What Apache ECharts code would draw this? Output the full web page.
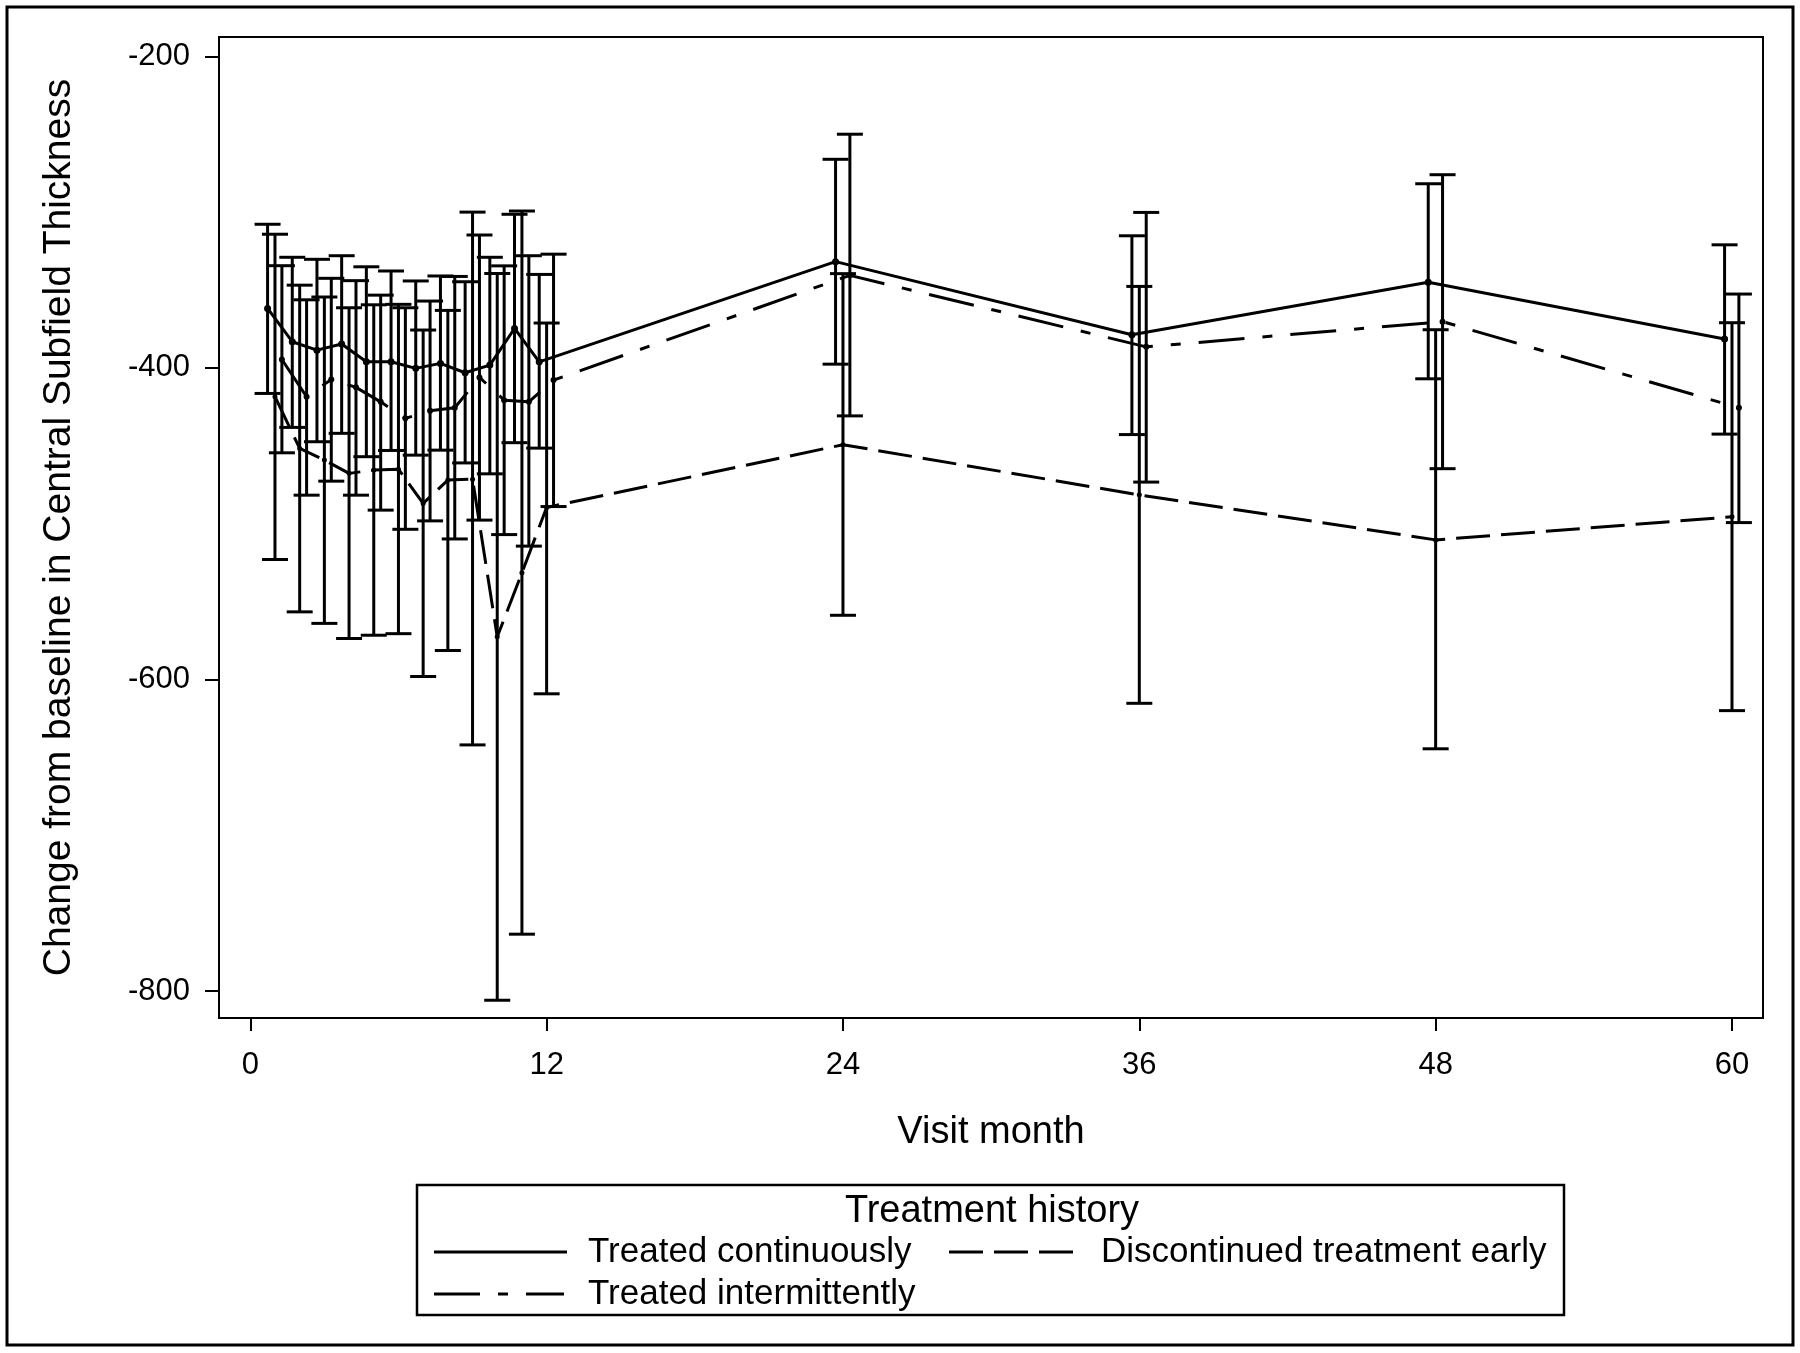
<!DOCTYPE html>
<html>
<head>
<meta charset="utf-8">
<script src="https://cdn.jsdelivr.net/npm/echarts@6/dist/echarts.min.js"></script>
<style>
html,body{margin:0;padding:0;background:#fff;}
#chart{width:1800px;height:1353px;}
</style>
</head>
<body>
<div id="chart"></div>
<script>
// ---- Data ----
const months = [1, 2, 3, 4, 5, 6, 7, 8, 9, 10, 11, 12, 24, 36, 48, 60];
const xTickValues = [0, 12, 24, 36, 48, 60];
const yTickValues = [-800, -600, -400, -200];

const seriesNames = ['Treated continuously', 'Discontinued treatment early', 'Treated intermittently'];

const contMean  = [-361.8, -383.2, -388.6, -384.7, -396.1, -396.1, -400.3, -397.1, -403.1, -398.2, -374.7, -396.1, -331.8, -378.7, -345.0, -381.4];
const contUpper = [-307.8, -329.0, -330.3, -328.0, -335.1, -337.8, -344.2, -341.0, -344.7, -329.0, -301.4, -340.0, -266.1, -315.2, -281.8, -321.0];
const contLower = [-416.4, -438.2, -447.4, -442.0, -457.0, -453.0, -456.0, -452.8, -461.0, -468.0, -448.0, -451.5, -397.6, -442.8, -407.0, -442.5];

const discMean  = [-418.5, -451.7, -459.2, -467.7, -465.6, -465.0, -487.0, -472.0, -471.4, -572.6, -531.5, -489.6, -449.3, -481.5, -510.4, -495.6];
const discUpper = [-314.2, -346.9, -354.5, -361.4, -359.5, -359.2, -375.7, -363.1, -300.0, -339.4, -299.3, -371.2, -339.5, -347.7, -375.5, -371.0];
const discLower = [-523.0, -556.6, -564.0, -573.7, -571.6, -570.6, -598.1, -581.4, -642.0, -805.9, -763.5, -609.2, -558.8, -615.3, -644.5, -620.0];

const intMean  = [-394.6, -418.5, -407.4, -412.5, -421.8, -432.4, -427.5, -425.6, -406.1, -420.7, -421.8, -407.8, -340.6, -386.5, -370.3, -425.6];
const intUpper = [-334.4, -356.3, -342.5, -344.0, -353.3, -361.4, -357.1, -341.3, -314.7, -334.5, -328.0, -327.0, -250.0, -300.2, -276.0, -352.6];
const intLower = [-454.5, -481.7, -472.7, -481.7, -491.3, -503.6, -498.2, -509.8, -497.7, -507.0, -514.4, -489.0, -430.8, -473.3, -464.7, -499.3];

// ---- Styling / layout ----
const FONT = '"Liberation Sans", Arial, Helvetica, sans-serif';
const BLACK = '#000';
const dodge = { cont: -0.3, disc: 0.0, int: 0.28 };
const dashDisc = [34, 11];
const dashInt = [46, 18, 10, 18];

function errRender(params, api) {
  const x = api.value(0);
  const top = api.coord([x, api.value(2)]);
  const bot = api.coord([x, api.value(1)]);
  const hw = 13;
  const st = { stroke: BLACK, lineWidth: 3 };
  return {
    type: 'group',
    children: [
      { type: 'line', shape: { x1: top[0], y1: top[1], x2: bot[0], y2: bot[1] }, style: st },
      { type: 'line', shape: { x1: top[0] - hw, y1: top[1], x2: top[0] + hw, y2: top[1] }, style: st },
      { type: 'line', shape: { x1: bot[0] - hw, y1: bot[1], x2: bot[0] + hw, y2: bot[1] }, style: st }
    ]
  };
}

function errSeries(name, off, lower, upper) {
  return {
    name: name + ' CI',
    type: 'custom',
    renderItem: errRender,
    encode: { x: 0, y: [1, 2] },
    data: months.map((m, i) => [m + off, lower[i], upper[i]]),
    z: 2,
    silent: true
  };
}

function lineSeries(name, off, mean, dash, symSize) {
  return {
    name: name,
    type: 'line',
    data: months.map((m, i) => [m + off, mean[i]]),
    symbol: 'circle',
    symbolSize: symSize,
    showSymbol: true,
    itemStyle: { color: BLACK },
    lineStyle: { color: BLACK, width: 3, type: dash },
    z: 3
  };
}

const chart = echarts.init(document.getElementById('chart'), null, { renderer: 'canvas' });

const legendLeft = 417, legendTop = 1185, legendW = 1147, legendH = 130;
const row1 = 1252, row2 = 1294;

const option = {
  animation: false,
  backgroundColor: '#fff',
  textStyle: { fontFamily: FONT, color: BLACK },
  grid: {
    left: 219, top: 37, width: 1544, height: 981,
    show: true, borderColor: BLACK, borderWidth: 2, backgroundColor: 'transparent'
  },
  xAxis: {
    type: 'value',
    min: -1.267, max: 61.256,
    axisLine: { show: true, onZero: false, lineStyle: { color: BLACK, width: 2 } },
    axisTick: { show: true, length: 13, lineStyle: { color: BLACK, width: 2 }, customValues: xTickValues },
    axisLabel: { customValues: xTickValues, fontSize: 31, color: BLACK, margin: 32, fontFamily: FONT },
    splitLine: { show: false },
    name: 'Visit month',
    nameLocation: 'middle',
    nameGap: 96,
    nameTextStyle: { fontSize: 38, color: BLACK, fontFamily: FONT }
  },
  yAxis: {
    type: 'value',
    min: -817.3, max: -187.6,
    axisLine: { show: true, onZero: false, lineStyle: { color: BLACK, width: 2 } },
    axisTick: { show: true, length: 14, lineStyle: { color: BLACK, width: 2 }, customValues: yTickValues },
    axisLabel: { customValues: yTickValues, fontSize: 31, color: BLACK, margin: 29, fontFamily: FONT },
    splitLine: { show: false },
    name: 'Change from baseline in Central Subfield Thickness',
    nameLocation: 'middle',
    nameRotate: 90,
    nameGap: 140,
    nameTextStyle: { fontSize: 39, color: BLACK, fontFamily: FONT }
  },
  series: [
    errSeries(seriesNames[0], dodge.cont, contLower, contUpper),
    errSeries(seriesNames[1], dodge.disc, discLower, discUpper),
    errSeries(seriesNames[2], dodge.int, intLower, intUpper),
    lineSeries(seriesNames[0], dodge.cont, contMean, 'solid', 7),
    lineSeries(seriesNames[1], dodge.disc, discMean, dashDisc, 5),
    lineSeries(seriesNames[2], dodge.int, intMean, dashInt, 6)
  ],
  graphic: [
    { type: 'rect', shape: { x: 7, y: 7, width: 1786, height: 1338 }, style: { fill: 'none', stroke: BLACK, lineWidth: 3 }, silent: true },
    { type: 'rect', shape: { x: legendLeft, y: legendTop, width: legendW, height: legendH }, style: { fill: 'none', stroke: BLACK, lineWidth: 2.5 }, silent: true },
    { type: 'text', style: { text: 'Treatment history', x: 992, y: 1212, textAlign: 'center', textVerticalAlign: 'middle', font: '38px ' + FONT, fill: BLACK } },
    { type: 'line', shape: { x1: 434, y1: row1, x2: 567, y2: row1 }, style: { stroke: BLACK, lineWidth: 3 } },
    { type: 'text', style: { text: seriesNames[0], x: 588, y: row1, textAlign: 'left', textVerticalAlign: 'middle', font: '35px ' + FONT, fill: BLACK } },
    { type: 'line', shape: { x1: 949, y1: row1, x2: 1081, y2: row1 }, style: { stroke: BLACK, lineWidth: 3, lineDash: dashDisc } },
    { type: 'text', style: { text: seriesNames[1], x: 1101, y: row1, textAlign: 'left', textVerticalAlign: 'middle', font: '35px ' + FONT, fill: BLACK } },
    { type: 'line', shape: { x1: 434, y1: row2, x2: 564, y2: row2 }, style: { stroke: BLACK, lineWidth: 3, lineDash: dashInt } },
    { type: 'text', style: { text: seriesNames[2], x: 588, y: row2, textAlign: 'left', textVerticalAlign: 'middle', font: '35px ' + FONT, fill: BLACK } }
  ]
};

chart.setOption(option);
</script>
</body>
</html>
